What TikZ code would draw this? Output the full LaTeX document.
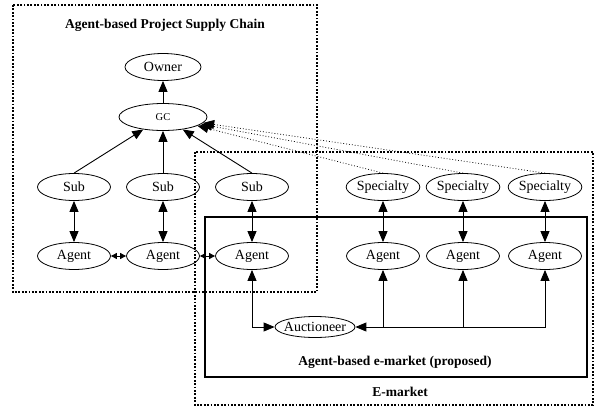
\documentclass[tikz,border=0pt]{standalone}
\usepackage{fontspec}
\setmainfont{Liberation Serif}
\usetikzlibrary{arrows.meta,shapes.geometric}
\begin{document}
\begin{tikzpicture}[x=1pt,y=-1pt,
    agent/.style={ellipse,draw,line width=0.8pt,minimum width=73pt,minimum height=27pt,inner sep=0pt,font=\fontsize{14}{16}\selectfont},
    link/.style={line width=0.9pt,-{Triangle[length=11pt,width=9pt]}},
    dlink/.style={line width=0.9pt,{Triangle[length=11pt,width=9pt]}-{Triangle[length=11pt,width=9pt]}},
    slink/.style={line width=0.9pt,{Triangle[length=6pt,width=6pt]}-{Triangle[length=6pt,width=6pt]}},
    box/.style={line width=1.8pt,dash pattern=on 1.8pt off 1.6pt},
    title/.style={font=\bfseries\fontsize{13.5}{15}\selectfont}]
  \useasboundingbox (0,0) rectangle (595,410);
  % the three frames
  \draw[box] (13,5) rectangle (317,292);
  \draw[box] (195,152) rectangle (593,405);
  \draw[line width=1.8pt] (205,217) rectangle (587,377);
  \node[title] (psc) at (165,25) {Agent-based Project Supply Chain};
  \node[title] (aem) at (395,362) {Agent-based e-market (proposed)};
  \node[title] (em) at (400,392) {E-market};
  % project supply chain
  \node[agent,minimum width=76pt] (owner) at (163,67) {Owner};
  \node[agent,minimum width=88pt,font=\fontsize{10.5}{12}\selectfont] (gc) at (163,117) {GC};
  \draw[link] (gc) -- (owner);
  \foreach \n/\x in {1/74,2/163,3/252} {%
    \node[agent] (sub\n) at (\x,187) {Sub};
    \node[agent] (ag\n) at (\x,256) {Agent};
    \draw[dlink] (sub\n) -- (ag\n);
    \draw[link] (sub\n.north) -- (gc);
  }
  \draw[slink] (ag1) -- (ag2);
  \draw[slink] (ag2) -- (ag3);
  % e-market
  \foreach \n/\x in {4/383,5/463,6/545} {%
    \node[agent] (spec\n) at (\x,187) {Specialty};
    \node[agent] (ag\n) at (\x,256) {Agent};
    \draw[dlink] (spec\n) -- (ag\n);
    \draw[link,dotted,line width=0.7pt] (spec\n.north) -- (gc);
  }
  \node[agent,minimum width=80pt,minimum height=21pt,inner xsep=-4pt] (auc) at (315,327) {Auctioneer};
  \draw[dlink] (ag3) |- (auc);
  \draw[dlink] (ag6) |- (auc);
  \draw[link] (ag4 |- auc) -- (ag4);
  \draw[link] (ag5 |- auc) -- (ag5);
\end{tikzpicture}
\end{document}
